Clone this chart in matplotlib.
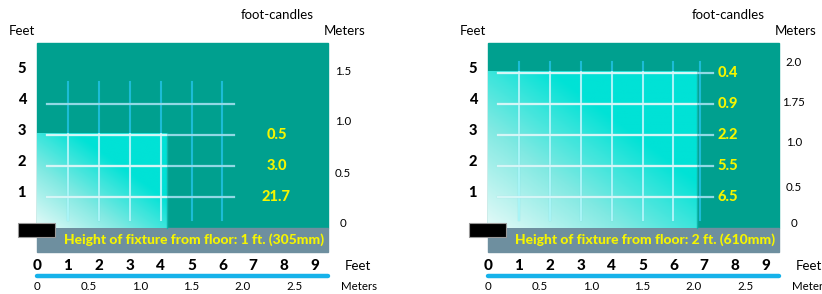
import numpy as np
import matplotlib.pyplot as plt
from matplotlib.colors import LinearSegmentedColormap
from matplotlib.patches import Rectangle

plt.rcParams["font.family"] = ["Lato", "DejaVu Sans"]

# ---- data ----
feet_ticks = list(range(10))
meter_ticks = [0, 0.5, 1.0, 1.5, 2.0, 2.5]
height_labels = [1, 2, 3, 4, 5]

# panel 1: fixture 1 ft above floor
p1_title = "Height of fixture from floor: 1 ft. (305mm)"
p1_fc_heights = [1, 2, 3]
p1_fc_values = ["21.7", "3.0", "0.5"]
p1_light = (4.2, 3.06)            # width, height of lit area (ft)
p1_vlines = [1, 2, 3, 4, 5, 6]
p1_hlines = [1, 2, 3, 4]
p1_vspan = (0.26, 4.7)
p1_hspan = (0.32, 6.37)
p1_side_m = ["1.5", "1.0", "0.5", "0"]
p1_side_pos = [5.06, 3.45, 1.77, 0.13]

# panel 2: fixture 2 ft above floor
p2_title = "Height of fixture from floor: 2 ft. (610mm)"
p2_fc_heights = [1, 2, 3, 4, 5]
p2_fc_values = ["6.5", "5.5", "2.2", "0.9", "0.4"]
p2_light = (6.76, 5.06)
p2_vlines = [1, 2, 3, 4, 5, 6, 6.86]
p2_hlines = [1, 2, 3, 4, 5]
p2_vspan = (0.26, 5.35)
p2_hspan = (0.32, 7.28)
p2_side_m = ["2.0", "1.75", "1.0", "0.5", "0"]
p2_side_pos = [5.35, 4.06, 2.77, 1.32, 0.13]

# ---- styling ----
TEAL = "#00a08f"
GRAY = "#6e8f9f"
YELLOW = "#f5f500"
VLINE = "#1cbcd6"
HLINE = "#92d8e4"
BLUE = "#16b2ea"
BOX_W, BOX_H = 9.42, 5.97
PX = 30.9   # pixels per foot (x)
PY = 31.0   # pixels per foot (y)

light_cmap = LinearSegmentedColormap.from_list(
    "light", ["#e4faf8", "#80e9e2", "#00e2d6"])


def draw_panel(ax, origin_px, title, fc_h, fc_v, light, vlines, hlines,
               vspan, hspan, side_m, side_pos):
    ax.set_xlim(-origin_px / PX, (411 - origin_px) / PX)
    ax.set_ylim((228 - 294) / PY, 228 / PY)
    ax.axis("off")

    # teal background and grey caption strip
    ax.add_patch(Rectangle((0, 0), BOX_W, BOX_H, color=TEAL, zorder=1))
    ax.add_patch(Rectangle((0, -0.77), BOX_W, 0.77, color=GRAY, zorder=1))

    # lit area, diagonal gradient
    w, h = light
    u, v = np.meshgrid(np.linspace(0, 1, 200), np.linspace(0, 1, 200))
    grad = np.clip((u + v) / 1.3, 0, 1)
    ax.imshow(grad, cmap=light_cmap, extent=(0, w, 0, h), origin="lower",
              aspect="auto", zorder=2, vmin=0, vmax=1)
    ax.plot([w, w], [0, h], color="#10b5ab", lw=1, zorder=2)
    lit = Rectangle((0, 0), w, h, transform=ax.transData)

    # grid: cyan on teal, paler over the lit area
    for x in vlines:
        ax.plot([x, x], vspan, color=VLINE, lw=1.5, zorder=3)
        ln, = ax.plot([x, x], vspan, color="#a8f4f6", lw=1.5, zorder=3.5)
        ln.set_clip_path(lit)
    for y in hlines:
        ax.plot(hspan, [y, y], color=HLINE, lw=1.6, zorder=4)
        ln, = ax.plot(hspan, [y, y], color="#d4f6f6", lw=1.6, zorder=4.5)
        ln.set_clip_path(lit)

    # foot-candle values
    for y, s in zip(fc_h, fc_v):
        ax.text(7.75, y, s, color=YELLOW, fontsize=10.5, fontweight="black",
                ha="center", va="center", zorder=5)

    ax.text(9.3, -0.37, title, color=YELLOW, fontsize=10,
            fontweight="black", ha="right", va="center", zorder=5)

    # black marker
    ax.add_patch(Rectangle((-0.61, -0.29), 1.19, 0.45, facecolor="black",
                           edgecolor="#999999", lw=0.8, zorder=6))

    # left height labels
    for hh in height_labels:
        ax.text(-0.49, hh + 0.13, str(hh), fontsize=10.5, fontweight="black",
                ha="center", va="center")
    # right metre labels
    xr = 9.9 if origin_px < 100 else 10.1
    for s, y in zip(side_m, side_pos):
        ax.text(xr, y, s, fontsize=8.3, ha="center", va="center")

    ax.text(-0.49, 6.35, "Feet", fontsize=9.5, ha="center", va="center")
    ax.text(9.97, 6.35, "Meters", fontsize=9.5, ha="center", va="center")
    ax.text(7.78, 6.87, "foot-candles", fontsize=9.5, ha="center",
            va="center")

    # bottom scale
    for f in feet_ticks:
        ax.text(f, -1.23, str(f), fontsize=11, fontweight="black",
                ha="center", va="center")
    ax.text(9.95, -1.23, "Feet", fontsize=9.5, ha="left", va="center")
    ax.plot([0, BOX_W], [-1.55, -1.55], color=BLUE, lw=3.2,
            solid_capstyle="round")
    for m in meter_ticks:
        ax.text(m / 0.3, -1.9, f"{m:g}" if m == 0 else f"{m:.1f}",
                fontsize=8.3, ha="center", va="center")
    ax.text(9.84, -1.9, "Meters", fontsize=8.3, ha="left", va="center")


fig = plt.figure(figsize=(8.22, 2.94), dpi=100)
ax1 = fig.add_axes([0, 0, 0.5, 1])
ax2 = fig.add_axes([0.5, 0, 0.5, 1])

draw_panel(ax1, 37, p1_title, p1_fc_heights, p1_fc_values, p1_light,
           p1_vlines, p1_hlines, p1_vspan, p1_hspan, p1_side_m, p1_side_pos)
draw_panel(ax2, 488 - 411, p2_title, p2_fc_heights, p2_fc_values, p2_light,
           p2_vlines, p2_hlines, p2_vspan, p2_hspan, p2_side_m, p2_side_pos)

fig.savefig("out.png", dpi=100)
